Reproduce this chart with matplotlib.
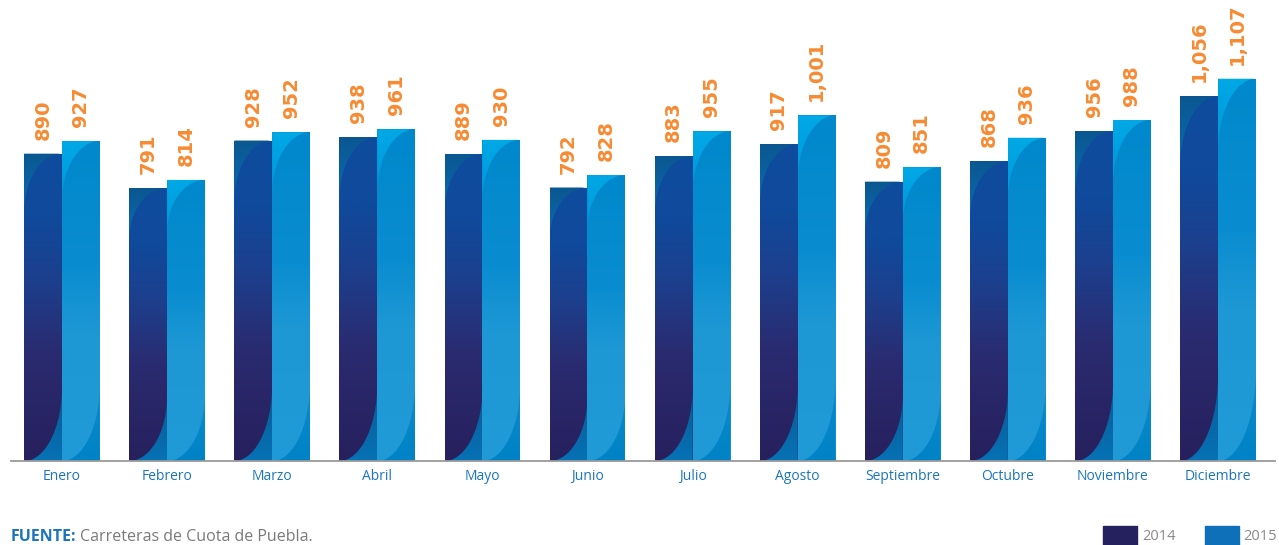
import numpy as np
import matplotlib.pyplot as plt
from matplotlib.colors import to_rgb
from matplotlib.patches import Rectangle, Polygon

months = ['Enero', 'Febrero', 'Marzo', 'Abril', 'Mayo', 'Junio', 'Julio',
          'Agosto', 'Septiembre', 'Octubre', 'Noviembre', 'Diciembre']
vals2014 = [890, 791, 928, 938, 889, 792, 883, 917, 809, 868, 956, 1056]
vals2015 = [927, 814, 952, 961, 930, 828, 955, 1001, 851, 936, 988, 1107]

W, H = 1279, 545
orange = '#f68b33'
blueText = '#1c75bc'
grayText = '#8a8a8a'

# gradient stops, bottom -> top
style2014 = {
    'base': [(0, '#27205d'), (0.35, '#2a2b70'), (0.6, '#1c408e'), (0.8, '#0f4a9c'), (1, '#0f4c9d')],
    'top': [(0, '#0a6db3'), (1, '#0a5790')],
    'bot': [(0, '#0672b5'), (1, '#0b5892')],
}
style2015 = {
    'base': [(0, '#219bd7'), (0.4, '#1e98d5'), (0.6, '#0a8dd0'), (1, '#0088cc')],
    'top': [(0, '#0097d9'), (1, '#00a9e6')],
    'bot': [(0, '#0083c6'), (1, '#0a8bcc')],
}


def vgrad(stops, n=256):
    pos = np.array([s[0] for s in stops])
    cols = np.array([to_rgb(s[1]) for s in stops])
    t = np.linspace(0, 1, n)
    arr = np.stack([np.interp(t, pos, cols[:, k]) for k in range(3)], axis=-1)
    return arr[:, None, :]


def fill_grad(ax, clip, extent, stops):
    im = ax.imshow(vgrad(stops), extent=extent, origin='lower', aspect='auto',
                   interpolation='bilinear', zorder=2)
    ax.add_patch(clip)
    clip.set_visible(False)
    im.set_clip_path(clip)


def fancy_bar(ax, x0, width, h, style):
    x1 = x0 + width
    rect = Rectangle((x0, 0), width, h, transform=ax.transData)
    fill_grad(ax, rect, (x0, x1, 0, h), style['base'])
    # top-left lighter corner, outside a quarter ellipse
    a = 0.19 * h
    t = np.linspace(0, np.pi / 2, 60)
    cx = x1 - width * np.cos(t)
    cy = h - a + a * np.sin(t)
    pts = np.column_stack([cx, cy])
    pts = np.vstack([pts, [[x0, h]]])
    fill_grad(ax, Polygon(pts, closed=True, transform=ax.transData),
              (x0, x1, h - a, h), style['top'])
    # bottom-right wedge
    b = 0.24 * h
    t = np.linspace(np.pi / 2, 0, 60)
    cx = x0 + width * np.cos(t)
    cy = b - b * np.sin(t)
    pts = np.column_stack([cx, cy])
    pts = np.vstack([pts, [[x1, 0]]])
    fill_grad(ax, Polygon(pts, closed=True, transform=ax.transData),
              (x0, x1, 0, b), style['bot'])


fig = plt.figure(figsize=(W / 100, H / 100), dpi=100)
ax = fig.add_axes([11 / W, 84 / H, (1275 - 11) / W, 461 / H])

x = np.arange(len(months))
bw = 0.36
labelFont = ['DejaVu Sans Condensed', 'DejaVu Sans']

for i in range(len(months)):
    fancy_bar(ax, x[i] - bw, bw, vals2014[i], style2014)
    fancy_bar(ax, x[i], bw, vals2015[i], style2015)
    for xc, v in [(x[i] - bw / 2, vals2014[i]), (x[i] + bw / 2, vals2015[i])]:
        ax.annotate(f'{v:,}', (xc, v), xytext=(0, 10), textcoords='offset points',
                    rotation=90, ha='center', va='bottom', color=orange,
                    fontsize=14, fontweight='bold', family=labelFont)

ax.set_xlim((11 - 62) / 105.1, (1275 - 62) / 105.1)
ax.set_ylim(0, 1335)
ax.set_xticks(x)
ax.set_xticklabels(months, color=blueText, fontsize=10, family='Open Sans')
ax.set_yticks([])
ax.tick_params(axis='x', length=0, pad=6)
for s in ['top', 'right', 'left']:
    ax.spines[s].set_visible(False)
ax.spines['bottom'].set_color('#9a9a9a')
ax.spines['bottom'].set_linewidth(1.3)
ax.spines['bottom'].set_zorder(5)

# footer source
t1 = fig.text(11 / W, 1 - 537 / H, 'FUENTE:', color=blueText, fontsize=11.5,
              fontweight='bold', family='Open Sans', va='center', ha='left')
fig.canvas.draw()
bb = t1.get_window_extent()
fig.text((bb.x1 + 4) / W, 1 - 537 / H, 'Carreteras de Cuota de Puebla.', color='#7a7a7a',
         fontsize=11.5, family='Open Sans', va='center', ha='left')

# legend
fig.add_artist(Rectangle((1103 / W, 0), 34 / W, 19 / H, transform=fig.transFigure,
                         color='#25205e'))
fig.text(1142 / W, 1 - 536 / H, '2014', color=grayText, fontsize=10.5,
         family='Open Sans', va='center', ha='left')
fig.add_artist(Rectangle((1205 / W, 0), 34 / W, 19 / H, transform=fig.transFigure,
                         color='#0e70b8'))
fig.text(1243 / W, 1 - 536 / H, '2015', color=grayText, fontsize=10.5,
         family='Open Sans', va='center', ha='left')

fig.savefig('out.png', dpi=100)
